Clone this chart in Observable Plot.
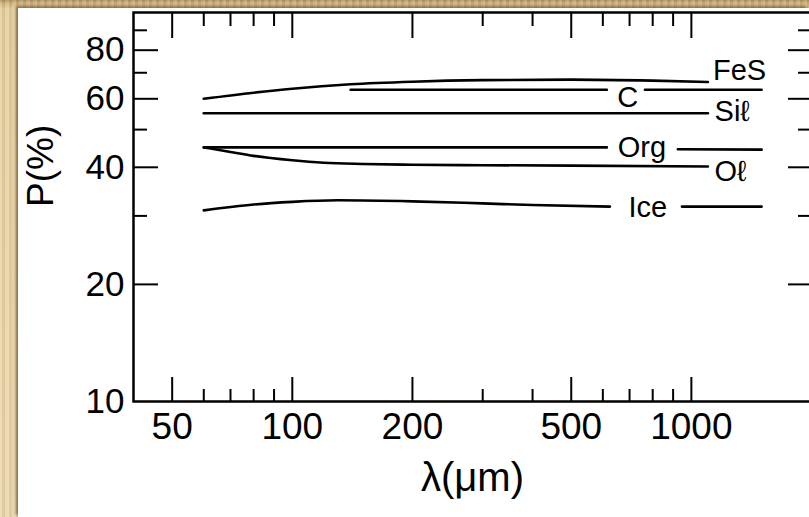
<!DOCTYPE html>
<html><head><meta charset="utf-8">
<script src="https://cdn.jsdelivr.net/npm/d3@7"></script>
<script src="https://cdn.jsdelivr.net/npm/@observablehq/plot@0.6"></script>
<style>
html,body{margin:0;padding:0;width:809px;height:517px;overflow:hidden;}
body{position:relative;background-color:#e6d09f;
 background-image:repeating-linear-gradient(90deg,rgba(255,255,255,.18) 0 2px,rgba(150,110,50,.10) 2px 5px,rgba(255,250,230,.12) 5px 7px),
 linear-gradient(180deg,#a98b58 0,#cbb07c 3px,#e4cd9d 9px,#ead6aa 100%);}
#paper{position:absolute;left:18px;top:8px;right:0;bottom:0;background:#fff;box-shadow:-2px -2px 3px rgba(95,65,25,.7);}
#chart{position:absolute;left:0;top:0;}
</style></head>
<body><div id="paper"></div><div id="chart"></div>
<script>
// wavelength (μm) and polarization P (%) per material
const fesLambda = [60, 80, 100, 140, 200, 300, 500, 800, 1100];
const fesP      = [60.0, 62.2, 63.7, 65.4, 66.4, 67.0, 67.2, 66.8, 66.3];
const cLambda   = [140, 300, 614, 690, 765, 1500];
const cP        = [63.3, 63.3, 63.3, NaN, 63.3, 63.3];
const silLambda = [60, 200, 1100];
const silP      = [55.1, 55.1, 55.1];
const orgLambda = [60, 200, 614, 750, 925, 1500];
const orgP      = [45.0, 45.0, 45.0, NaN, 44.5, 44.4];
const olLambda  = [60, 70, 80, 100, 120, 150, 200, 300, 500, 1100];
const olP       = [45.0, 43.8, 42.8, 41.7, 41.1, 40.8, 40.6, 40.5, 40.4, 40.2];
const iceLambda = [60, 80, 100, 130, 200, 300, 400, 625, 780, 947, 1500];
const iceP      = [31.0, 32.1, 32.6, 32.9, 32.7, 32.3, 32.0, 31.7, NaN, 31.7, 31.7];

// series labels
const labelNames  = ["FeS", "C", "Siℓ", "Org", "Oℓ", "Ice"];
const labelLambda = [1133, 693, 1143, 752, 1143, 778];
const labelP      = [66.3, 63.3, 55.1, 45.0, 40.2, 31.7];

// ticks
const xMajor = [50, 100, 200, 500, 1000];
const xMinor = [60, 70, 80, 90, 300, 400, 600, 700, 800, 900];
const xTickLabels = [50, 100, 200, 500, 1000];
const yMajor = [20, 40, 60, 80];
const yMinor = [30, 50, 70, 90];
const yTickLabels = [10, 20, 40, 60, 80];

const series = [
  ["FeS", fesLambda, fesP], ["C", cLambda, cP], ["Sil", silLambda, silP],
  ["Org", orgLambda, orgP], ["Ol", olLambda, olP], ["Ice", iceLambda, iceP]
];
const rows = series.flatMap(([s, xs, ys]) => xs.map((x, i) => ({series: s, lambda: x, P: ys[i]})));
const labels = labelNames.map((n, i) => ({name: n, lambda: labelLambda[i], P: labelP[i]}));
const anchorOf = {"FeS": "start", "C": "middle", "Siℓ": "start", "Org": "middle", "Oℓ": "start", "Ice": "middle"};
const dyOf = {"FeS": -11, "C": 8, "Siℓ": -1, "Org": 0, "Oℓ": 5, "Ice": 1};

const font = "'Liberation Sans', Arial, Helvetica, sans-serif";
const tickW = 2;

const chart = Plot.plot({
  width: 809, height: 517,
  marginLeft: 133, marginRight: -2, marginTop: 12, marginBottom: 116,
  style: {background: "transparent", fontFamily: font, color: "black", overflow: "visible"},
  x: {type: "log", domain: [40, 2000], axis: null},
  y: {type: "log", domain: [10, 100], axis: null},
  marks: [
    Plot.frame({strokeWidth: 2.5}),
    Plot.axisX(xMajor, {anchor: "bottom", tickSize: -24, fill: "none", strokeWidth: tickW, label: null}),
    Plot.axisX(xMinor, {anchor: "bottom", tickSize: -12, fill: "none", strokeWidth: tickW, label: null}),
    Plot.axisX(xMajor, {anchor: "top", tickSize: -25, fill: "none", strokeWidth: tickW, label: null}),
    Plot.axisX(xMinor, {anchor: "top", tickSize: -13, fill: "none", strokeWidth: tickW, label: null}),
    Plot.text(xTickLabels, {x: d => d, frameAnchor: "bottom", lineAnchor: "top", dy: 11, fontSize: 37, fill: "black", text: d => String(d)}),
    Plot.axisY(yMajor, {anchor: "left", tickSize: -25, fill: "none", strokeWidth: tickW, label: null}),
    Plot.axisY(yMinor, {anchor: "left", tickSize: -14, fill: "none", strokeWidth: tickW, label: null}),
    Plot.axisY(yMajor, {anchor: "right", tickSize: -24, fill: "none", strokeWidth: tickW, label: null}),
    Plot.axisY(yMinor, {anchor: "right", tickSize: -14, fill: "none", strokeWidth: tickW, label: null}),
    Plot.text(yTickLabels, {y: d => d, frameAnchor: "left", textAnchor: "end", dx: -9, fontSize: 35, fill: "black", text: d => String(d)}),
    Plot.line(rows, {x: "lambda", y: "P", z: "series", curve: "monotone-x", stroke: "black", strokeWidth: 2.6}),
    ...labels.map(l => Plot.text([l], {x: "lambda", y: "P", text: "name", fontSize: 29, fill: "black",
      textAnchor: anchorOf[l.name], dy: dyOf[l.name]})),
    Plot.text(["λ(μm)"], {frameAnchor: "bottom", dy: 89, fontSize: 40, fill: "black"}),
    Plot.text(["P(%)"], {frameAnchor: "left", dx: -92, rotate: -90, fontSize: 37, fill: "black"})
  ]
});
document.getElementById("chart").appendChild(chart);
</script>
</body></html>
